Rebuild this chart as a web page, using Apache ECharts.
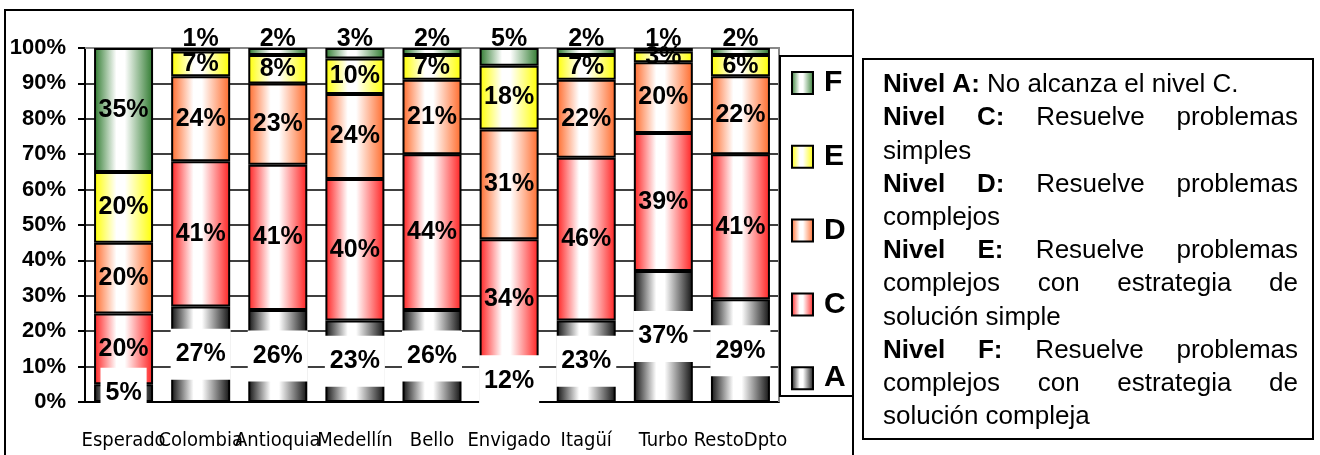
<!DOCTYPE html>
<html>
<head>
<meta charset="utf-8">
<script src="https://cdn.jsdelivr.net/npm/echarts@6/dist/echarts.min.js"></script>
<style>
  body { margin: 0; background: #fff; }
  #chart { width: 1320px; height: 455px; }
</style>
</head>
<body>
<div id="chart"></div>
<script>
  // datos
  const categorias = ['Esperado', 'Colombia', 'Antioquia', 'Medellín', 'Bello', 'Envigado', 'Itagüí', 'Turbo', 'RestoDpto'];
  const nivelA = [5, 27, 26, 23, 26, 12, 23, 37, 29];
  const nivelC = [20, 41, 41, 40, 44, 34, 46, 39, 41];
  const nivelD = [20, 24, 23, 24, 21, 31, 22, 20, 22];
  const nivelE = [20, 7, 8, 10, 7, 18, 7, 3, 6];
  const nivelF = [35, 1, 2, 3, 2, 5, 2, 1, 2];
  const leyenda = ['F', 'E', 'D', 'C', 'A'];

  // texto del cuadro: [parte en negrita, resto, justificado]
  const descripcion = [
    ['Nivel A:', 'No alcanza el nivel C.', false],
    ['Nivel C:', 'Resuelve problemas', true],
    ['', 'simples', false],
    ['Nivel D:', 'Resuelve problemas', true],
    ['', 'complejos', false],
    ['Nivel E:', 'Resuelve problemas', true],
    ['', 'complejos con estrategia de', true],
    ['', 'solución simple', false],
    ['Nivel F:', 'Resuelve problemas', true],
    ['', 'complejos con estrategia de', true],
    ['', 'solución compleja', false]
  ];

  const FONT = '"Liberation Sans", Arial, sans-serif';
  const chart = echarts.init(document.getElementById('chart'));
  const ctx = document.createElement('canvas').getContext('2d');

  // fuente estrecha para las categorías, si existe
  ctx.font = '23px "Liberation Sans Narrow", monospace';
  const wNarrow = ctx.measureText('Esperado').width;
  ctx.font = '23px monospace';
  const hayNarrow = Math.abs(wNarrow - ctx.measureText('Esperado').width) > 1;
  const fuenteCat = hayNarrow
    ? {fontFamily: '"Liberation Sans Narrow"', fontSize: 23}
    : {fontFamily: '"DejaVu Sans Condensed", sans-serif', fontSize: 20};

  function degradado(c) {
    return new echarts.graphic.LinearGradient(0, 0, 1, 0, [
      {offset: 0, color: c},
      {offset: 0.38, color: '#ffffff'},
      {offset: 0.52, color: '#ffffff'},
      {offset: 1, color: c}
    ]);
  }

  const etiqueta = {
    show: true,
    position: 'inside',
    formatter: '{c}%',
    color: '#000',
    fontFamily: FONT,
    fontWeight: 'bold',
    fontSize: 25
  };

  function serie(nombre, datos, color, extra) {
    return {
      name: nombre,
      type: 'bar',
      stack: 'total',
      barWidth: 59,
      data: datos,
      itemStyle: {color: degradado(color), borderColor: '#000', borderWidth: 2},
      label: Object.assign({}, etiqueta, extra || {})
    };
  }

  // texto justificado del cuadro derecho
  function ancho(t, negrita) {
    ctx.font = (negrita ? 'bold ' : '') + '26px "Liberation Sans"';
    return ctx.measureText(t).width;
  }
  const textos = [];
  const x0 = 883, x1 = 1298;
  descripcion.forEach((linea, i) => {
    const palabras = [];
    linea[0].split(' ').filter(Boolean).forEach(w => palabras.push([w, true]));
    linea[1].split(' ').filter(Boolean).forEach(w => palabras.push([w, false]));
    const anchos = palabras.map(p => ancho(p[0], p[1]));
    const total = anchos.reduce((a, b) => a + b, 0);
    const hueco = linea[2] && palabras.length > 1 ? (x1 - x0 - total) / (palabras.length - 1) : ancho(' ', false);
    let x = x0;
    const y = 85 + i * 33.2;
    palabras.forEach((p, k) => {
      textos.push({
        type: 'text', x: x, y: y, z: 5,
        style: {text: p[0], fill: '#000', font: (p[1] ? 'bold ' : '') + '26px ' + FONT, textVerticalAlign: 'middle'}
      });
      x += anchos[k] + hueco;
    });
  });

  chart.setOption({
    animation: false,
    grid: {left: 85, right: 541, top: 48, bottom: 53},
    xAxis: {
      type: 'category',
      data: categorias,
      axisLine: {lineStyle: {color: '#000', width: 2}},
      axisTick: {length: 8, lineStyle: {color: '#000', width: 2}},
      axisLabel: Object.assign({interval: 0, margin: hayNarrow ? 27 : 29, color: '#000'}, fuenteCat)
    },
    yAxis: {
      type: 'value',
      min: 0, max: 100, interval: 10,
      axisLine: {show: true, lineStyle: {color: '#000', width: 2}},
      axisTick: {show: true, length: 7, lineStyle: {color: '#000', width: 2}},
      splitLine: {lineStyle: {color: '#000', width: 1.5}},
      axisLabel: {formatter: '{value}%', margin: 19, color: '#000', fontSize: 22, fontWeight: 'bold', fontFamily: FONT}
    },
    legend: {
      data: leyenda,
      orient: 'vertical',
      left: 791, top: 68, padding: 0,
      icon: 'rect',
      itemWidth: 21, itemHeight: 22, itemGap: 43.8,
      textStyle: {color: '#000', fontSize: 30, fontWeight: 'bold', fontFamily: FONT, padding: [0, 0, 0, 6]},
      z: 6
    },
    graphic: [
      {type: 'rect', z: 0, shape: {x: 5, y: 10, width: 848, height: 470}, style: {fill: 'none', stroke: '#000', lineWidth: 2}},
      {type: 'polyline', z: 1, shape: {points: [[85, 48], [779, 48], [779, 402]]}, style: {fill: 'none', stroke: '#888', lineWidth: 2}},
      {type: 'rect', z: 5, shape: {x: 780, y: 56, width: 73, height: 340}, style: {fill: '#fff', stroke: '#000', lineWidth: 2}},
      {type: 'rect', z: 0, shape: {x: 863, y: 59, width: 450, height: 380}, style: {fill: '#fff', stroke: '#000', lineWidth: 2}}
    ].concat(textos),
    series: [
      serie('A', nivelA, '#111111', {backgroundColor: '#fff', padding: [13, 5]}),
      serie('C', nivelC, '#ff2020'),
      serie('D', nivelD, '#ff6a2a'),
      serie('E', nivelE, '#ffff00'),
      serie('F', nivelF.map(v => ({value: v, label: {position: v >= 10 ? 'inside' : 'top', distance: -4}})), '#2e7a2e')
    ]
  });
</script>
</body>
</html>
